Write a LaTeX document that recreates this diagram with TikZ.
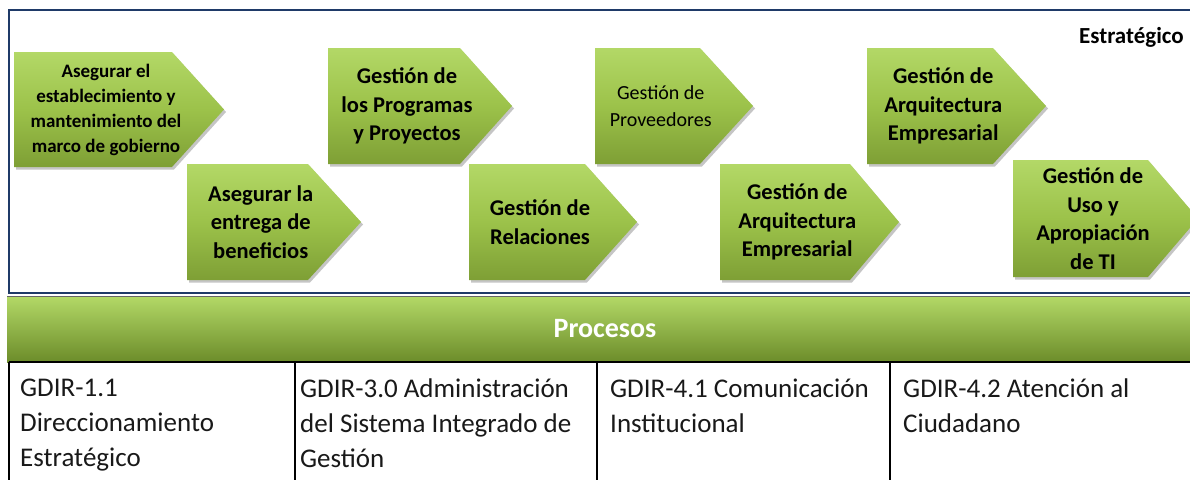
\documentclass[tikz,border=0pt]{standalone}
\usepackage{fontspec}
\setmainfont{Carlito}
\usepackage{tikz}
\usetikzlibrary{shadows}
\definecolor{framenavy}{HTML}{1F3A68}
\definecolor{chevtop}{HTML}{B3D867}
\definecolor{chevmid}{HTML}{9CC24A}
\definecolor{chevbot}{HTML}{7E9F35}
\definecolor{bartop}{HTML}{B3D967}
\definecolor{barbot}{HTML}{6C8C2A}
% name, left, top, body end, tip, bottom, font, text
\newcommand{\chevron}[8]{%
  \shade[chevfill] (#2,#3) -- (#4,#3) -- (#5,{(#3+#6)/2}) -- (#4,#6) -- (#2,#6) -- cycle;
  \node[chevtext,#7] (#1) at ({(#2+#4)/2+(#5-#4)/4},{(#3+#6)/2}) {#8};
}
\tikzset{
  chevfill/.style={top color=chevtop, bottom color=chevbot, middle color=chevmid, drop shadow={shadow xshift=2pt, shadow yshift=-2.5pt, opacity=0.45}},
  chevtext/.style={align=center, inner sep=0pt, text=black, font=\bfseries\fontsize{22.5}{28.5}\selectfont},
  cell/.style={anchor=north west, align=left, inner sep=0pt, text=black!90, font=\fontsize{27}{35}\selectfont},
  gridline/.style={draw=black, line width=1.3pt}
}

\begin{document}
\begin{tikzpicture}[x=1pt,y=-1pt]
  \useasboundingbox (0,0) rectangle (1190,479);
  \clip (0,0) rectangle (1190,479);
  \fill[white] (0,0) rectangle (1190,479);

  % strategic frame
  \draw[framenavy, line width=2.8pt] (9,10) rectangle (1205,293);
  \node[anchor=east, inner sep=0pt, font=\bfseries\fontsize{23}{26}\selectfont] (estrategico) at (1184,37) {Estratégico};

  \chevron{gobierno}{14}{52}{172}{224}{167}{font=\bfseries\fontsize{19}{25}\selectfont}{Asegurar el\\establecimiento y\\mantenimiento del\\marco de gobierno}
  \chevron{beneficios}{187}{164}{308}{361}{280}{}{Asegurar la\\entrega de\\beneficios}
  \chevron{programas}{328}{48}{460}{512}{164}{}{Gestión de\\los Programas\\y Proyectos}
  \chevron{relaciones}{469}{164}{585}{637}{280}{}{Gestión de\\Relaciones}
  \chevron{proveedores}{595}{48}{700}{753}{164}{font=\fontsize{20}{27}\selectfont}{Gestión de\\Proveedores}
  \chevron{arquitecturab}{720}{164}{850}{899}{280}{}{Gestión de\\Arquitectura\\Empresarial}
  \chevron{arquitecturaa}{867}{48}{993}{1046}{164}{}{Gestión de\\Arquitectura\\Empresarial}
  \chevron{usoti}{1013}{160}{1148}{1198}{277}{}{Gestión de\\Uso y\\Apropiación\\de TI}

  % process bar
  \shade[top color=bartop, bottom color=barbot] (7,296) rectangle (1200,362);
  \draw[black!60, line width=0.8pt] (7,296) -- (1200,296);
  \node[text=white, inner sep=0pt, font=\bfseries\fontsize{28}{32}\selectfont] (procesos) at (605,329) {Procesos};

  % process table
  \draw[gridline] (9,362) -- (1200,362);
  \foreach \x in {9,295,597,890} {\draw[gridline] (\x,362) -- (\x,485);}
  \node[cell] (gdirunouno) at (20,379) {GDIR-1.1\\Direccionamiento\\Estratégico};
  \node[cell] (gdirtres) at (300,379) {GDIR-3.0 Administración\\del Sistema Integrado de\\Gestión};
  \node[cell] (gdircuatrouno) at (610,379) {GDIR-4.1 Comunicación\\Institucional};
  \node[cell] (gdircuatrodos) at (903,379) {GDIR-4.2 Atención al\\Ciudadano};
\end{tikzpicture}
\end{document}
